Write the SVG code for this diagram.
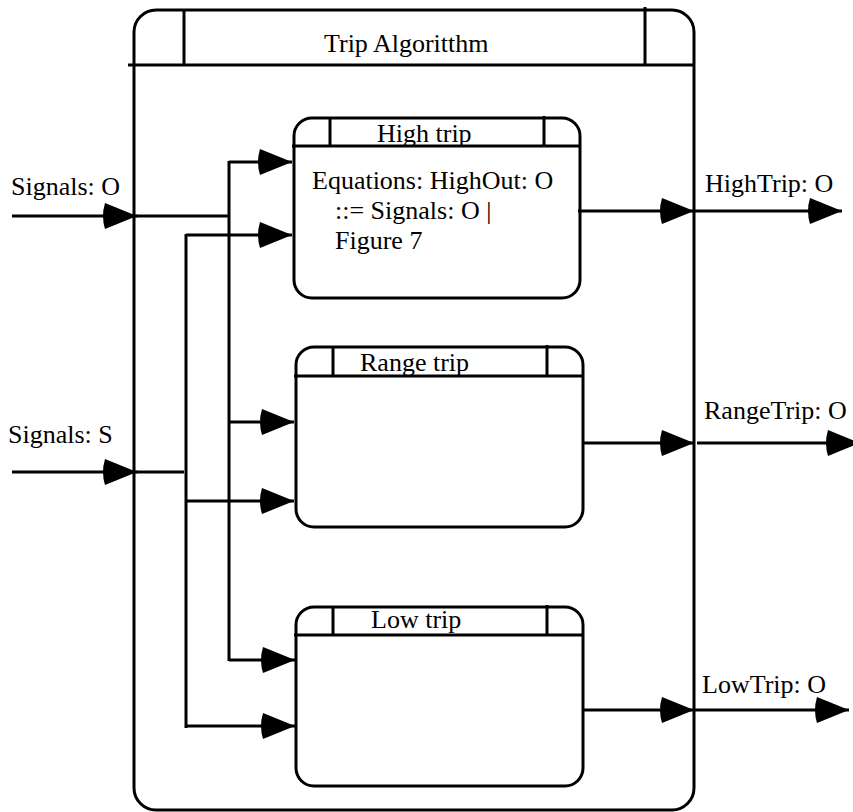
<svg xmlns="http://www.w3.org/2000/svg" width="853" height="812" viewBox="0 0 853 812">
  <style>
    .box { fill: none; stroke: #000; stroke-width: 3; }
    .rule { stroke: #000; stroke-width: 3; fill: none; }
    .wire { stroke: #000; stroke-width: 3; fill: none; }
    .arrow { marker-end: url(#head); }
    text { font-family: "Liberation Serif", "Times New Roman", serif; font-size: 26px; fill: #000; }
  </style>
  <defs>
    <!-- solid arrowhead with a rounded back, tip on the line end -->
    <marker id="head" markerUnits="userSpaceOnUse" markerWidth="40" markerHeight="30" refX="36" refY="15" orient="auto" overflow="visible">
      <path d="M36,15 L4,2 Q0,15 4,28 Z" fill="#000"/>
    </marker>
  </defs>

  <rect width="853" height="812" fill="#fff"/>

  <!-- enclosing process -->
  <g id="trip-algorithm">
    <rect class="box" x="134" y="10" width="560" height="800" rx="22"/>
    <line class="rule" x1="128" y1="65" x2="694" y2="65"/>
    <line class="rule" x1="184" y1="10" x2="184" y2="65"/>
    <line class="rule" x1="645" y1="7" x2="645" y2="65"/>
    <text x="324" y="52">Trip Algoritthm</text>
  </g>

  <g id="high-trip">
    <rect class="box" x="294" y="118" width="286" height="180" rx="18"/>
    <line class="rule" x1="292" y1="146" x2="580" y2="146"/>
    <line class="rule" x1="330" y1="118" x2="330" y2="146"/>
    <line class="rule" x1="544" y1="116" x2="544" y2="146"/>
    <text x="377" y="142">High trip</text>
    <text x="312" y="189">Equations: HighOut: O</text>
    <text x="335" y="219">::= Signals: O |</text>
    <text x="335" y="249">Figure 7</text>
  </g>

  <g id="range-trip">
    <rect class="box" x="296" y="347" width="287" height="180" rx="18"/>
    <line class="rule" x1="294" y1="376" x2="583" y2="376"/>
    <line class="rule" x1="333" y1="347" x2="333" y2="376"/>
    <line class="rule" x1="547" y1="345" x2="547" y2="376"/>
    <text x="360" y="371">Range trip</text>
  </g>

  <g id="low-trip">
    <rect class="box" x="296" y="607" width="287" height="179" rx="18"/>
    <line class="rule" x1="294" y1="635" x2="583" y2="635"/>
    <line class="rule" x1="333" y1="607" x2="333" y2="635"/>
    <line class="rule" x1="547" y1="605" x2="547" y2="635"/>
    <text x="371" y="628">Low trip</text>
  </g>

  <g id="connectors">
    <!-- Signals: O input and its fan-out bus -->
    <line class="wire arrow" x1="12" y1="216" x2="137" y2="216"/>
    <line class="wire" x1="134" y1="216" x2="228" y2="216"/>
    <line class="wire" x1="229" y1="161" x2="229" y2="661"/>
    <line class="wire arrow" x1="229" y1="162" x2="292" y2="162"/>
    <line class="wire arrow" x1="229" y1="422" x2="294" y2="422"/>
    <line class="wire arrow" x1="229" y1="660" x2="295" y2="660"/>

    <!-- Signals: S input and its fan-out bus -->
    <line class="wire arrow" x1="12" y1="472" x2="137" y2="472"/>
    <line class="wire" x1="134" y1="472" x2="184" y2="472"/>
    <line class="wire" x1="186" y1="234" x2="186" y2="728"/>
    <line class="wire arrow" x1="186" y1="235" x2="292" y2="235"/>
    <line class="wire arrow" x1="186" y1="501" x2="294" y2="501"/>
    <line class="wire arrow" x1="186" y1="726" x2="295" y2="726"/>

    <!-- outputs -->
    <line class="wire arrow" x1="578" y1="211" x2="694" y2="211"/>
    <line class="wire arrow" x1="695" y1="211" x2="842" y2="211"/>
    <line class="wire arrow" x1="583" y1="443" x2="694" y2="443"/>
    <line class="wire arrow" x1="697" y1="443" x2="860" y2="443"/>
    <line class="wire arrow" x1="583" y1="710" x2="694" y2="710"/>
    <line class="wire arrow" x1="695" y1="710" x2="849" y2="710"/>
  </g>

  <g id="labels">
    <text x="11" y="195">Signals: O</text>
    <text x="8" y="443">Signals: S</text>
    <text x="705" y="192">HighTrip: O</text>
    <text x="704" y="419">RangeTrip: O</text>
    <text x="702" y="693">LowTrip: O</text>
  </g>
</svg>
